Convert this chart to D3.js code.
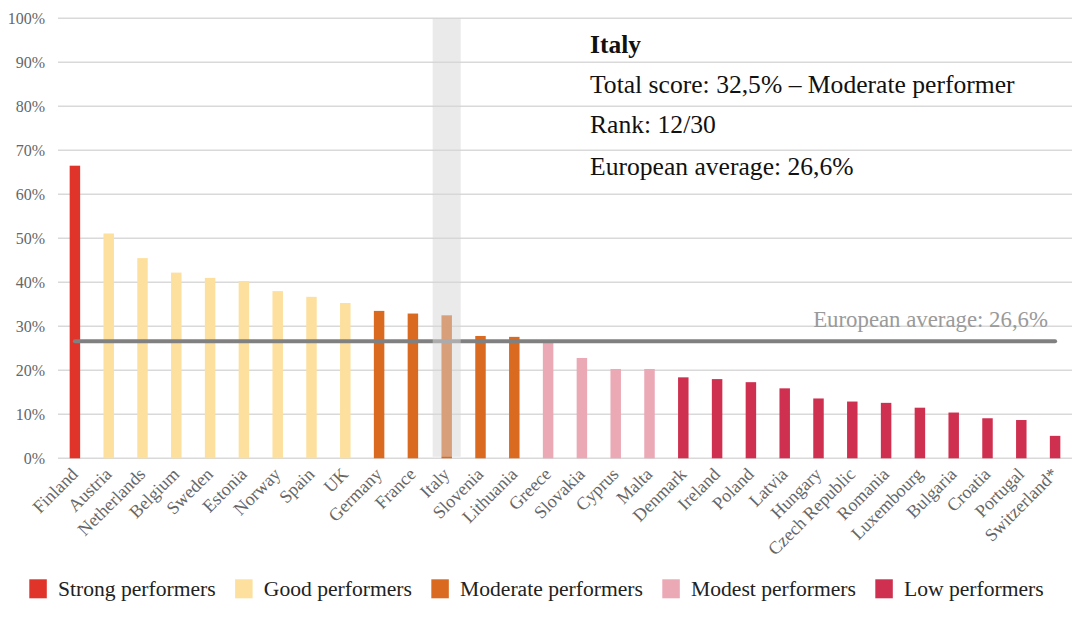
<!DOCTYPE html>
<html>
<head>
<meta charset="utf-8">
<script src="https://cdn.jsdelivr.net/npm/d3@7"></script>
<style>
  html, body { margin: 0; padding: 0; background: #fff; }
  svg { display: block; }
  text { font-family: "Liberation Serif", "Times New Roman", serif; }
</style>
</head>
<body>
<svg id="chart" width="1090" height="621"></svg>
<script>
// ---- data ----
const countries = ["Finland","Austria","Netherlands","Belgium","Sweden","Estonia","Norway","Spain","UK","Germany","France","Italy","Slovenia","Lithuania","Greece","Slovakia","Cyprus","Malta","Denmark","Ireland","Poland","Latvia","Hungary","Czech Republic","Romania","Luxembourg","Bulgaria","Croatia","Portugal","Switzerland*"];
const scores = [66.5,51.1,45.5,42.2,41.0,40.3,38.0,36.7,35.3,33.5,32.9,32.5,27.8,27.6,26.4,22.8,20.3,20.3,18.4,18.0,17.3,15.9,13.6,12.9,12.6,11.5,10.4,9.1,8.7,5.1];
const groups = ["Strong","Good","Good","Good","Good","Good","Good","Good","Good","Moderate","Moderate","Moderate","Moderate","Moderate","Modest","Modest","Modest","Modest","Low","Low","Low","Low","Low","Low","Low","Low","Low","Low","Low","Low"];
const groupKeys = ["Strong","Good","Moderate","Modest","Low"];
const groupLabels = ["Strong performers","Good performers","Moderate performers","Modest performers","Low performers"];
const groupColors = ["#e0342a","#fde09e","#da6a1f","#eba8b5","#cf3050"];
const yTicks = [0,10,20,30,40,50,60,70,80,90,100];
const europeanAverage = 26.6;
const highlightCountry = "Italy";
const infoTitle = "Italy";
const infoLines = ["Total score: 32,5% \u2013 Moderate performer","Rank: 12/30","European average: 26,6%"];
const averageLabel = "European average: 26,6%";

// ---- layout ----
const svg = d3.select("#chart");
const plotLeft = 58, plotRight = 1072, plotTop = 18.3, plotBottom = 458.3;

const x = d3.scaleBand().domain(countries).range([plotLeft, plotRight]).paddingInner(0.69).paddingOuter(0.345);
const y = d3.scaleLinear().domain([0, 100]).range([plotBottom, plotTop]);
const color = d3.scaleOrdinal().domain(groupKeys).range(groupColors);

// gridlines
svg.append("g").selectAll("line").data(yTicks).join("line")
  .attr("x1", plotLeft).attr("x2", plotRight)
  .attr("y1", d => y(d)).attr("y2", d => y(d))
  .attr("stroke", "#d9d9d9").attr("stroke-width", 1.5);

// y axis labels
const yAxis = svg.append("g").attr("transform", `translate(45,0)`)
  .call(d3.axisLeft(y).tickValues(yTicks).tickSize(0).tickPadding(0).tickFormat(d => d + "%"));
yAxis.select(".domain").remove();
yAxis.selectAll("text").attr("font-family", "Liberation Serif").attr("font-size", 16).attr("fill", "#666");

// bars
svg.append("g").selectAll("rect").data(countries).join("rect")
  .attr("x", d => x(d)).attr("width", x.bandwidth())
  .attr("y", (d, i) => y(scores[i])).attr("height", (d, i) => y(0) - y(scores[i]))
  .attr("fill", (d, i) => color(groups[i]));

// average line
const cx = d => x(d) + x.bandwidth() / 2;
svg.append("line")
  .attr("x1", cx(countries[0])).attr("x2", cx(countries[countries.length - 1]))
  .attr("y1", y(europeanAverage)).attr("y2", y(europeanAverage))
  .attr("stroke", "#808080").attr("stroke-width", 4).attr("stroke-linecap", "round");

// highlight band
svg.append("rect")
  .attr("x", cx(highlightCountry) - 14).attr("width", 28)
  .attr("y", y(100)).attr("height", y(0) - y(100) - 1.5)
  .attr("fill", "#d6d6d6").attr("opacity", 0.5);

// average label
svg.append("text")
  .attr("x", 1048).attr("y", 327)
  .attr("text-anchor", "end").attr("font-size", 22.8).attr("fill", "#9a9a9a")
  .text(averageLabel);

// x axis labels
const xAxis = svg.append("g").attr("transform", `translate(0,${plotBottom})`)
  .call(d3.axisBottom(x).tickSize(0).tickPadding(0));
xAxis.select(".domain").remove();
xAxis.selectAll("text")
  .attr("font-family", "Liberation Serif").attr("font-size", 18).attr("fill", "#666")
  .attr("text-anchor", "end").attr("dy", null).attr("y", null)
  .attr("transform", "translate(4,17) rotate(-45)");

// info box
const info = svg.append("g");
info.append("text").attr("x", 590).attr("y", 53).attr("font-size", 25.5).attr("font-weight", "bold").attr("fill", "#111").text(infoTitle);
const infoY = [93, 133, 175];
info.selectAll("text.line").data(infoLines).join("text").attr("class", "line")
  .attr("x", 590).attr("y", (d, i) => infoY[i]).attr("font-size", 25.6).attr("fill", "#111").text(d => d);

// legend
const legend = svg.append("g");
let lx = 29.3;
groupKeys.forEach((k, i) => {
  legend.append("rect").attr("x", lx).attr("y", 579.3).attr("width", 17.5).attr("height", 19).attr("fill", color(k));
  const t = legend.append("text").attr("x", lx + 28.7).attr("y", 595.7).attr("font-size", 21.6).attr("fill", "#222").text(groupLabels[i]);
  lx = lx + 28.7 + t.node().getComputedTextLength() + 19.4;
});
</script>
</body>
</html>
